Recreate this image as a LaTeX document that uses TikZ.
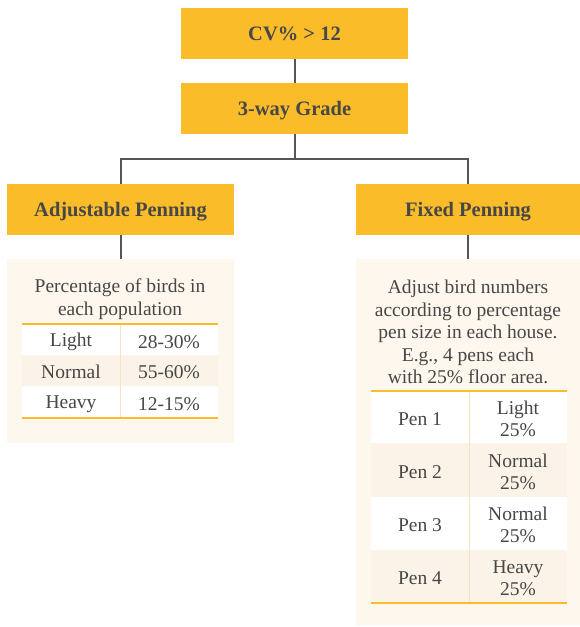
\documentclass[tikz,border=0pt]{standalone}
\usepackage{fontspec}
\setmainfont{Liberation Serif}
\usepackage{tikz}
\usepackage{xcolor}
\definecolor{gold}{HTML}{FBBC2A}
\definecolor{ink}{HTML}{474747}
\definecolor{paper}{HTML}{FDF7EE}
\definecolor{creamrow}{HTML}{FBF3E7}
\definecolor{rule}{HTML}{F8E2C2}
\definecolor{wire}{HTML}{555555}

\begin{document}
\begin{tikzpicture}[x=1pt,y=-1pt,line cap=butt,
  headbox/.style={fill=gold,text=ink,inner sep=0pt,minimum height=51pt,
    text height=14pt,text depth=0pt,
    font=\fontsize{20.5}{24}\selectfont\bfseries},
  panel/.style={fill=paper,inner sep=0pt},
  cell/.style={text=ink,inner sep=0pt,align=center,font=\fontsize{19.5}{22.5}\selectfont},
  wires/.style={wire,line width=2pt}]
\useasboundingbox (0,0) rectangle (580,627);
% head boxes
\node[headbox,minimum width=227pt] (cv) at (294.5,33.5) {CV\% > 12};
\node[headbox,minimum width=227pt] (grade) at (294.5,108.5) {3-way Grade};
\node[headbox,minimum width=227pt] (adj) at (120.5,209.5) {Adjustable Penning};
\node[headbox,minimum width=224pt] (fixed) at (468,209.5) {Fixed Penning};
% panels
\node[panel,minimum width=227pt,minimum height=184pt] (adjpanel) at (120.5,351) {};
\node[panel,minimum width=224pt,minimum height=366pt] (fixpanel) at (468,442) {};
% connectors
\draw[wires] (cv.south) -- (grade.north);
\coordinate (split) at (294.5,159);
\draw[wires] (grade.south) -- (split);
\draw[wires] (split) -| (adj.north);
\draw[wires] (split) -| (fixed.north);
\draw[wires] (adj.south) -- (adjpanel.north);
\draw[wires] (fixed.south) -- (fixpanel.north);
% left table
\fill[white] (22,325) rectangle (218,355);
\fill[creamrow] (22,355) rectangle (218,386);
\fill[white] (22,386) rectangle (218,418);
\draw[rule,line width=1pt] (120,325) -- (120,418);
\draw[gold,line width=2pt] (22,324) -- (218,324);
\draw[gold,line width=2pt] (22,418) -- (218,418);
\node[cell] (adjtitle) at (120,299) {Percentage of birds in\\each population};
\node[cell] (light) at (71,342) {Light};
\node[cell] (lightpc) at (169,342) {28-30\%};
\node[cell] (normal) at (71,372) {Normal};
\node[cell] (normalpc) at (169,372) {55-60\%};
\node[cell] (heavy) at (71,404) {Heavy};
\node[cell] (heavypc) at (169,404) {12-15\%};
% right table
\fill[white] (371,391) rectangle (567,443);
\fill[creamrow] (371,443) rectangle (567,497);
\fill[white] (371,497) rectangle (567,550);
\fill[creamrow] (371,550) rectangle (567,603);
\draw[rule,line width=1pt] (469,391) -- (469,603);
\draw[gold,line width=2pt] (371,391) -- (567,391);
\draw[gold,line width=2pt] (371,603) -- (567,603);
\node[cell] (fixtitle) at (468,332) {Adjust bird numbers\\according to percentage\\pen size in each house.\\E.g., 4 pens each\\with 25\% floor area.};
\node[cell] (pena) at (420,419) {Pen 1};
\node[cell] (pcta) at (518,419) {Light\\25\%};
\node[cell] (penb) at (420,472) {Pen 2};
\node[cell] (pctb) at (518,472) {Normal\\25\%};
\node[cell] (penc) at (420,525) {Pen 3};
\node[cell] (pctc) at (518,525) {Normal\\25\%};
\node[cell] (pend) at (420,578) {Pen 4};
\node[cell] (pctd) at (518,578) {Heavy\\25\%};
\end{tikzpicture}
\end{document}
